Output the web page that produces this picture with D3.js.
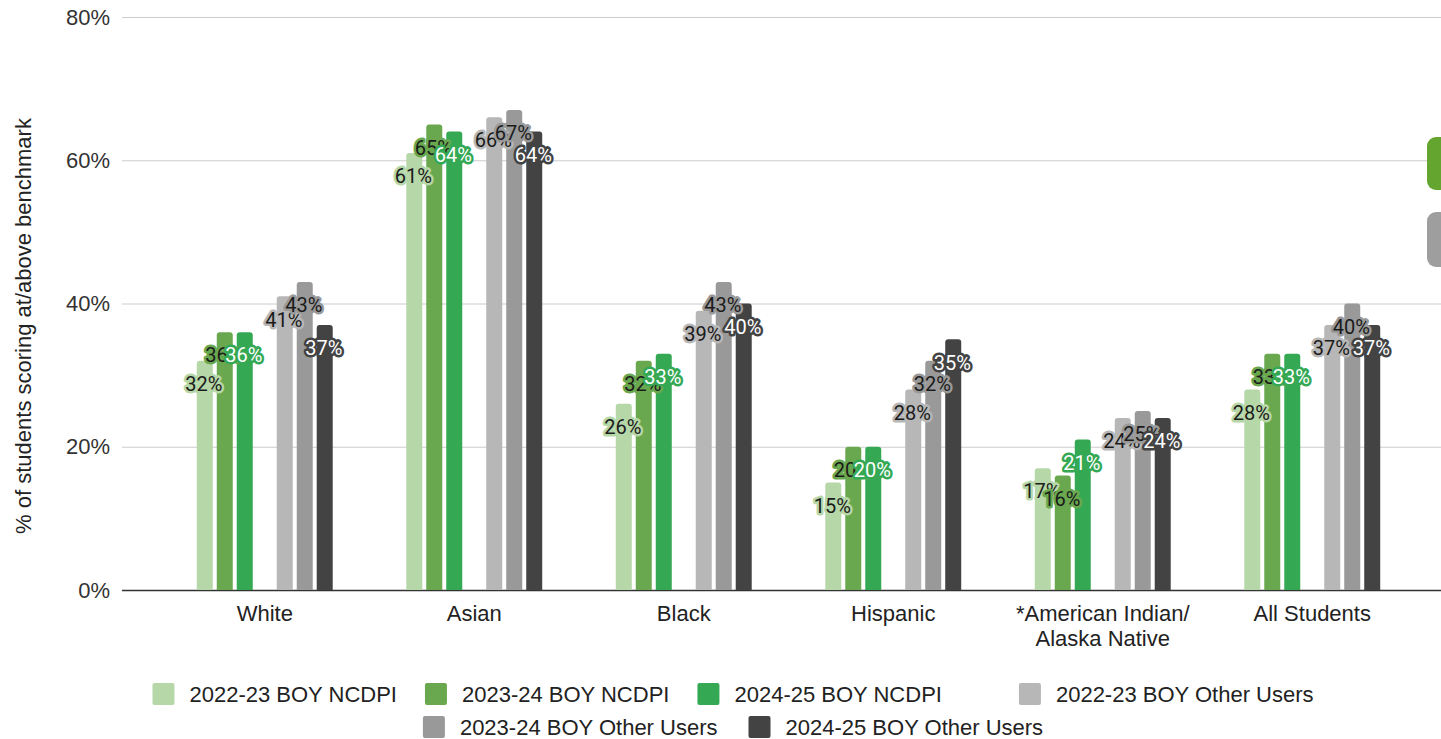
<!DOCTYPE html>
<html>
<head>
<meta charset="utf-8">
<script src="https://cdn.jsdelivr.net/npm/d3@7"></script>
<style>
  html, body { margin: 0; padding: 0; background: #fff; }
  svg { display: block; }
</style>
</head>
<body>
<svg id="chart" width="1441" height="739"></svg>
<script>
// ---- data ----
const categories = ["White", "Asian", "Black", "Hispanic", "*American Indian/\nAlaska Native", "All Students"];
const seriesNames = ["2022-23 BOY NCDPI", "2023-24 BOY NCDPI", "2024-25 BOY NCDPI",
                     "2022-23 BOY Other Users", "2023-24 BOY Other Users", "2024-25 BOY Other Users"];
const ncdpi2223 = [32, 61, 26, 15, 17, 28];
const ncdpi2324 = [36, 65, 32, 20, 16, 33];
const ncdpi2425 = [36, 64, 33, 20, 21, 33];
const other2223 = [41, 66, 39, 28, 24, 37];
const other2324 = [43, 67, 43, 32, 25, 40];
const other2425 = [37, 64, 40, 35, 24, 37];
const seriesValues = [ncdpi2223, ncdpi2324, ncdpi2425, other2223, other2324, other2425];
const yTicks = [0, 20, 40, 60, 80];
const yTitle = "% of students scoring at/above benchmark";

// ---- styles ----
const colors = ["#b6d7a8", "#6aa84f", "#34a853", "#b7b7b7", "#999999", "#434343"];
const labelFill = ["#1b1b1b", "#1b1b1b", "#ffffff", "#1b1b1b", "#1b1b1b", "#ffffff"];

const svg = d3.select("#chart");
const plotLeft = 122, plotRight = 1441, yTop = 17, yBottom = 590;
const fs = 22;

const y = d3.scaleLinear().domain([0, 80]).range([yBottom, yTop]);
const x0 = d3.scaleBand().domain(categories).range([160, 1417]).paddingInner(0.332).paddingOuter(0.166);
const slots = ["s0", "s1", "s2", "gap", "s3", "s4", "s5"];
const x1 = d3.scaleBand().domain(slots).range([0, x0.bandwidth()]).paddingInner(0.2).paddingOuter(0.1);
const slotOf = i => slots[i < 3 ? i : i + 1];

const axisFont = "'Liberation Sans', Arial, sans-serif";

// gridlines + y tick labels
const yAxis = d3.axisLeft(y).tickValues(yTicks).tickSize(-(plotRight - plotLeft)).tickFormat(d => d + "%").tickPadding(12);
const gy = svg.append("g").attr("transform", `translate(${plotLeft},0)`).call(yAxis);
gy.select(".domain").remove();
gy.selectAll(".tick line").attr("stroke", d => d === 0 ? "#333" : "#cccccc").attr("stroke-width", d => d === 0 ? 1.5 : 1.2);
gy.selectAll(".tick text").attr("font-family", axisFont).attr("font-size", fs).attr("fill", "#333");

// y title
svg.append("text")
  .attr("transform", `translate(31,326) rotate(-90)`)
  .attr("text-anchor", "middle")
  .attr("font-family", axisFont).attr("font-size", fs).attr("fill", "#222")
  .text(yTitle);

// bars
function barPath(x, top, w, bottom, r) {
  r = Math.min(r, (bottom - top));
  return `M${x},${bottom}V${top + r}Q${x},${top} ${x + r},${top}H${x + w - r}Q${x + w},${top} ${x + w},${top + r}V${bottom}Z`;
}

const barsData = [];
seriesValues.forEach((vals, si) => {
  vals.forEach((v, ci) => barsData.push({ si, ci, v, cat: categories[ci] }));
});

svg.append("g").selectAll("path").data(barsData).join("path")
  .attr("d", d => barPath(x0(d.cat) + x1(slotOf(d.si)), y(d.v), x1.bandwidth(), y(0), 3))
  .attr("fill", d => colors[d.si]);

// data labels
svg.append("g").selectAll("text").data(barsData).join("text")
  .attr("x", d => x0(d.cat) + x1(slotOf(d.si)) + x1.bandwidth() / 2 - 1)
  .attr("y", d => y(d.v) + 23)
  .attr("dy", "0.36em")
  .attr("text-anchor", "middle")
  .attr("font-family", "Roboto, sans-serif").attr("font-size", 20)
  .attr("fill", d => labelFill[d.si])
  .attr("stroke", d => colors[d.si]).attr("stroke-width", 5).attr("stroke-linejoin", "round")
  .attr("paint-order", "stroke")
  .text(d => d.v + "%");

// x category labels
const gx = svg.append("g");
categories.forEach(c => {
  const lines = c.split("\n");
  const cx = x0(c) + x0.bandwidth() / 2;
  const t = gx.append("text")
    .attr("x", cx)
    .attr("y", 621)
    .attr("text-anchor", "middle")
    .attr("font-family", axisFont).attr("font-size", fs).attr("fill", "#222");
  lines.forEach((l, i) => t.append("tspan").attr("x", cx).attr("dy", i === 0 ? 0 : 25).text(l));
});

// legend
const rows = [[0, 1, 2, 3], [4, 5]];
const rowGaps = [[28, 28, 77], [31]];
const rowY = [694, 727];
const legendCenter = 733;
const sw = 22, swGap = 15;
const lg = svg.append("g");
rows.forEach((row, ri) => {
  const items = row.map(si => {
    const g = lg.append("g");
    g.append("rect").attr("width", sw).attr("height", sw).attr("rx", 2).attr("y", -sw / 2).attr("fill", colors[si]);
    const t = g.append("text").attr("x", sw + swGap).attr("dy", "0.35em")
      .attr("font-family", axisFont).attr("font-size", fs).attr("fill", "#222").text(seriesNames[si]);
    const w = sw + swGap + t.node().getComputedTextLength();
    return { g, w };
  });
  const total = d3.sum(items, d => d.w) + d3.sum(rowGaps[ri]);
  let cx = legendCenter - total / 2;
  items.forEach((it, i) => {
    it.g.attr("transform", `translate(${cx},${rowY[ri]})`);
    cx += it.w + (rowGaps[ri][i] || 0);
  });
});

// cropped side buttons at right edge
svg.append("rect").attr("x", 1427).attr("y", 137).attr("width", 40).attr("height", 53).attr("rx", 9).attr("fill", "#63a52f");
svg.append("rect").attr("x", 1427).attr("y", 212).attr("width", 40).attr("height", 55).attr("rx", 9).attr("fill", "#9e9e9e");
</script>
</body>
</html>
